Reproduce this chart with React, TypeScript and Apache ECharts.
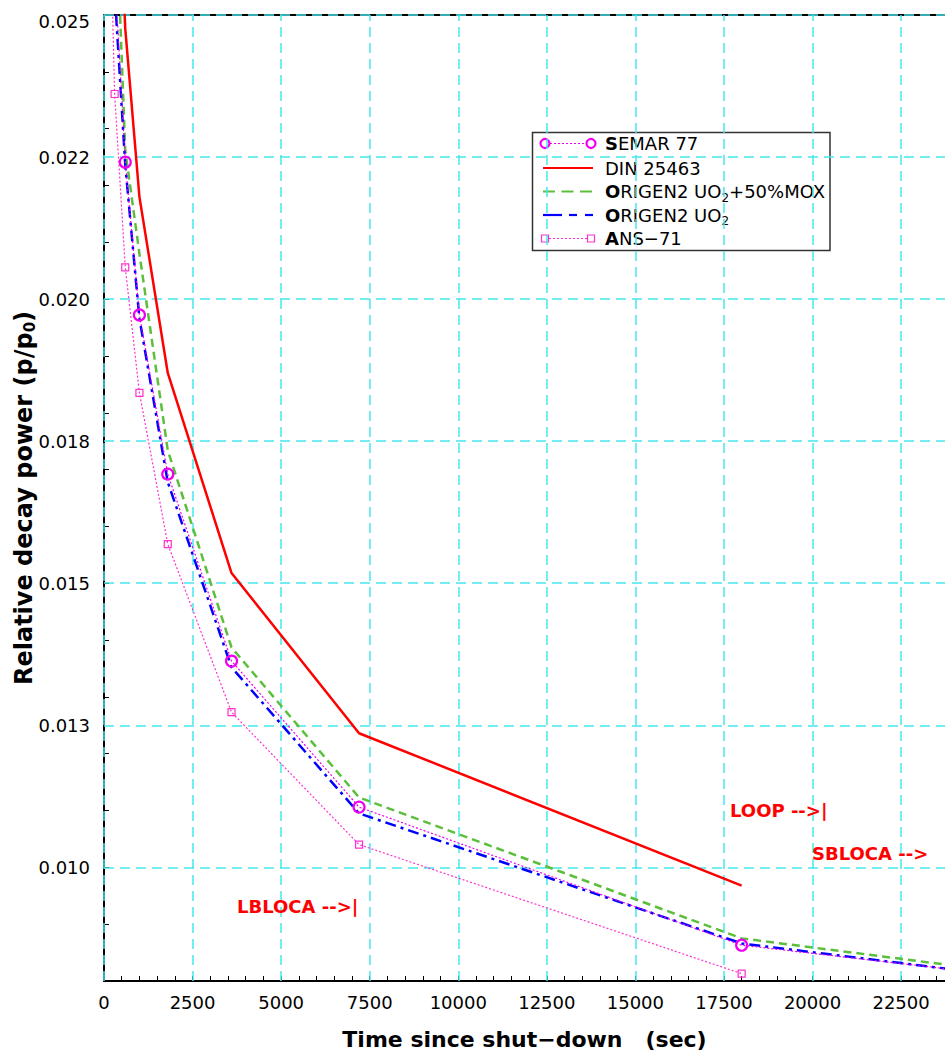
import React, { useEffect, useRef } from 'react';
import * as echarts from 'echarts';

// Time after shutdown (s) at which the decay-power curves are tabulated
const timeSec = [300, 600, 1000, 1800, 3600, 7200, 18000, 36000];
const semar77 = [0.0258, 0.02241, 0.01972, 0.01692, 0.01363, 0.01106, 0.00863, 0.00734];
const origenMox = [0.0275, 0.02262, 0.0208, 0.01734, 0.01387, 0.01123, 0.00875, 0.00731];
const origenUo2 = [0.02542, 0.02236, 0.01966, 0.01678, 0.01352, 0.01095, 0.00866, 0.00728];

const dinTimeSec = [300, 600, 1000, 1800, 3600, 7200, 18000];
const din25463 = [0.029, 0.02476, 0.0218, 0.0187, 0.01518, 0.01236, 0.00968];

const ansTimeSec = [100, 300, 600, 1000, 1800, 3600, 7200, 18000];
const ans71 = [0.0287, 0.02361, 0.02056, 0.01835, 0.01569, 0.01273, 0.0104, 0.00813];

// Axis ticks and labels
const xTickValues = [0, 2500, 5000, 7500, 10000, 12500, 15000, 17500, 20000, 22500];
const yTickValues = [0.01, 0.0125, 0.015, 0.0175, 0.02, 0.0225, 0.025];
const yTickLabels = ['0.010', '0.013', '0.015', '0.018', '0.020', '0.022', '0.025'];

const zip = (xs: number[], ys: number[]) => xs.map((x, i) => [x, ys[i]]);

const FONT = 'DejaVu Sans';
const CYAN = '#45e8ee';
const MAGENTA = '#f000f0';
const PINK = '#ff30d0';
const RED = '#ff0000';
const GREEN = '#5cbf3c';
const BLUE = '#0000ff';

const gridDash = { color: CYAN, type: [10, 6], width: 1.5 };

function buildOption(): echarts.EChartsOption {
  const gridLines: any[] = [
    { yAxis: 0.025, lineStyle: { color: '#000', type: 'solid', width: 2 } },
    ...xTickValues.map((v) => ({ xAxis: v, lineStyle: gridDash })),
    ...yTickValues.map((v) => ({ yAxis: v, lineStyle: gridDash })),
  ];

  const legendRows = [143.5, 168, 191.5, 215, 238.5];
  const lx1 = 543;
  const lx2 = 593;
  const tx = 605;
  const textStyle = (text: string, y: number) => ({
    type: 'text',
    x: tx,
    y,
    style: {
      text,
      fill: '#000',
      fontFamily: FONT,
      fontSize: 18,
      verticalAlign: 'middle',
      rich: {
        b: { fontFamily: FONT, fontSize: 18, fontWeight: 'bold', fill: '#000' },
        n: { fontFamily: FONT, fontSize: 18, fill: '#000' },
        s: { fontFamily: FONT, fontSize: 12, fill: '#000', padding: [12, 0, 0, 0] },
      },
    },
  });

  const legend: any = {
    type: 'group',
    z: 100,
    children: [
      {
        type: 'rect',
        shape: { x: 532.5, y: 132.5, width: 297.5, height: 118 },
        style: { fill: '#fff', stroke: '#333', lineWidth: 1.5 },
      },
      // SEMAR 77
      {
        type: 'line',
        shape: { x1: 550, y1: legendRows[0], x2: 586, y2: legendRows[0] },
        style: { stroke: MAGENTA, lineWidth: 1.2, lineDash: [2, 2] },
      },
      { type: 'circle', shape: { cx: 545, cy: legendRows[0], r: 4.5 }, style: { fill: 'none', stroke: MAGENTA, lineWidth: 2.2 } },
      { type: 'circle', shape: { cx: 591, cy: legendRows[0], r: 4.5 }, style: { fill: 'none', stroke: MAGENTA, lineWidth: 2.2 } },
      textStyle('{b|S}{n|EMAR 77}', legendRows[0]),
      // DIN 25463
      {
        type: 'line',
        shape: { x1: lx1, y1: legendRows[1], x2: lx2, y2: legendRows[1] },
        style: { stroke: RED, lineWidth: 2.2 },
      },
      textStyle('{n|DIN 25463}', legendRows[1]),
      // ORIGEN2 UO2+50%MOX
      {
        type: 'line',
        shape: { x1: lx1, y1: legendRows[2], x2: lx2 + 2, y2: legendRows[2] },
        style: { stroke: GREEN, lineWidth: 2.2, lineDash: [12, 6.5] },
      },
      textStyle('{b|O}{n|RIGEN2 UO}{s|2}{n|+50%MOX}', legendRows[2]),
      // ORIGEN2 UO2
      { type: 'line', shape: { x1: lx1, y1: legendRows[3], x2: 562, y2: legendRows[3] }, style: { stroke: BLUE, lineWidth: 2.2 } },
      { type: 'line', shape: { x1: 569, y1: legendRows[3], x2: 577, y2: legendRows[3] }, style: { stroke: BLUE, lineWidth: 2.2 } },
      { type: 'line', shape: { x1: 585, y1: legendRows[3], x2: lx2, y2: legendRows[3] }, style: { stroke: BLUE, lineWidth: 2.2 } },
      textStyle('{b|O}{n|RIGEN2 UO}{s|2}', legendRows[3]),
      // ANS-71
      {
        type: 'line',
        shape: { x1: 549, y1: legendRows[4], x2: 587, y2: legendRows[4] },
        style: { stroke: PINK, lineWidth: 1.2, lineDash: [2, 2] },
      },
      { type: 'rect', shape: { x: 541.5, y: legendRows[4] - 3.5, width: 7, height: 7 }, style: { fill: 'none', stroke: PINK, lineWidth: 1.2 } },
      { type: 'rect', shape: { x: 587.5, y: legendRows[4] - 3.5, width: 7, height: 7 }, style: { fill: 'none', stroke: PINK, lineWidth: 1.2 } },
      textStyle('{b|A}{n|NS\u221271}', legendRows[4]),
    ],
  };

  const note = (text: string, x: number, y: number) => ({
    type: 'text',
    x,
    y,
    z: 90,
    style: {
      text,
      fill: RED,
      fontFamily: FONT,
      fontSize: 18,
      fontWeight: 'bold',
      verticalAlign: 'middle',
    },
  });

  return {
    animation: false,
    backgroundColor: '#fff',
    grid: { left: 104, right: 0, top: 15, bottom: 73, containLabel: false, outerBoundsMode: 'none' } as any,
    xAxis: {
      type: 'value',
      min: 0,
      max: 23740,
      interval: 500,
      name: 'Time since shut\u2212down   (sec)',
      nameLocation: 'middle',
      nameGap: 47,
      nameMoveOverlap: false,
      nameTextStyle: { fontFamily: FONT, fontWeight: 'bold', fontSize: 22, color: '#000' },
      axisLine: { show: true, onZero: false, lineStyle: { color: '#000', width: 2 } },
      axisTick: { show: true, inside: true, length: 5, lineStyle: { color: '#000', width: 1 } },
      axisLabel: {
        customValues: xTickValues,
        margin: 12,
        color: '#000',
        fontFamily: FONT,
        fontSize: 18,
        formatter: (v: number) => String(v),
      },
      splitLine: { show: false },
    } as any,
    yAxis: {
      type: 'value',
      min: 0.008,
      max: 0.025,
      interval: 0.001,
      name: '{t|Relative decay power (p/p}{s|0}{t|)}',
      nameLocation: 'middle',
      nameRotate: 90,
      nameGap: 67,
      nameMoveOverlap: false,
      nameTextStyle: {
        rich: {
          t: { fontFamily: FONT, fontWeight: 'bold', fontSize: 24, color: '#000' },
          s: { fontFamily: FONT, fontWeight: 'bold', fontSize: 15, color: '#000', padding: [12, 0, 0, 0] },
        },
      },
      axisLine: { show: true, lineStyle: { color: '#000', width: 2 } },
      axisTick: { show: true, inside: true, length: 5, lineStyle: { color: '#000', width: 1 } },
      axisLabel: {
        customValues: yTickValues,
        margin: 14,
        color: '#000',
        fontFamily: FONT,
        fontSize: 18,
        formatter: (v: number) => {
          const i = yTickValues.findIndex((t) => Math.abs(t - v) < 1e-9);
          if (i < 0) return '';
          return i === yTickValues.length - 1 ? `{top|${yTickLabels[i]}}` : yTickLabels[i];
        },
        rich: {
          top: { fontFamily: FONT, fontSize: 18, color: '#000', padding: [12, 0, 0, 0] },
        },
      },
      splitLine: { show: false },
    } as any,
    graphic: [
      legend,
      note('LOOP -->|', 730, 810),
      note('SBLOCA -->', 812, 853),
      note('LBLOCA -->|', 237, 906),
    ],
    series: [
      {
        name: 'grid',
        type: 'line',
        data: [],
        z: 1,
        silent: true,
        markLine: {
          silent: true,
          symbol: ['none', 'none'],
          label: { show: false },
          precision: 6,
          z: 1,
          data: gridLines,
        },
      } as any,
      {
        name: 'ANS\u221271',
        type: 'line',
        z: 3,
        data: zip(ansTimeSec, ans71),
        symbol: 'rect',
        symbolSize: 7,
        itemStyle: { color: 'rgba(0,0,0,0)', borderColor: PINK, borderWidth: 1.2 },
        lineStyle: { color: PINK, width: 1.2, type: [2, 2] },
      },
      {
        name: 'DIN 25463',
        type: 'line',
        z: 3,
        data: zip(dinTimeSec, din25463),
        showSymbol: false,
        symbol: 'none',
        lineStyle: { color: RED, width: 2.5, type: 'solid' },
      },
      {
        name: 'ORIGEN2 UO2+50%MOX',
        type: 'line',
        z: 3,
        data: zip(timeSec, origenMox),
        symbol: 'none',
        lineStyle: { color: GREEN, width: 2.5, type: [8, 5] },
      },
      {
        name: 'ORIGEN2 UO2',
        type: 'line',
        z: 4,
        data: zip(timeSec, origenUo2),
        symbol: 'none',
        lineStyle: { color: BLUE, width: 2.5, type: [11, 5, 3, 5] },
      },
      {
        name: 'SEMAR 77',
        type: 'line',
        z: 5,
        data: zip(timeSec, semar77),
        symbol: 'circle',
        symbolSize: 11,
        itemStyle: { color: 'rgba(0,0,0,0)', borderColor: MAGENTA, borderWidth: 2.2 },
        lineStyle: { color: MAGENTA, width: 1.2, type: [2, 2] },
      },
    ],
  };
}

export default function App() {
  const ref = useRef<HTMLDivElement>(null);
  useEffect(() => {
    if (!ref.current) return;
    const chart = echarts.init(ref.current, null, { renderer: 'svg' });
    chart.setOption(buildOption());
    return () => chart.dispose();
  }, []);
  return (
    <div
      ref={ref}
      style={{ position: 'absolute', left: 0, top: 0, width: 945, height: 1054, background: '#fff' }}
    />
  );
}
